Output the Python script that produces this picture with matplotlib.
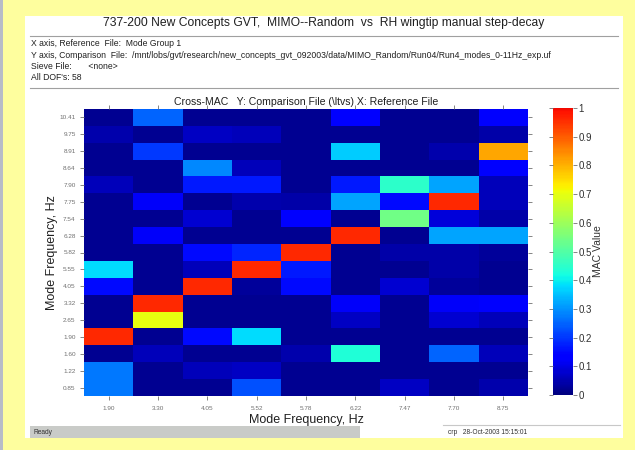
import numpy as np
import matplotlib

matplotlib.use("Agg")
import matplotlib.pyplot as plt
from matplotlib.colors import ListedColormap
from matplotlib.patches import Rectangle
from matplotlib.lines import Line2D

plt.rcParams["font.family"] = ["Liberation Sans", "DejaVu Sans"]

W, H = 635, 450
BG_YELLOW = "#fefe9e"
STATUS_GRAY = "#c9cbc8"
RULE_GRAY = "#a0a0a0"
TICK_GRAY = "#707070"

# x: reference file modes, y: comparison file modes (top -> bottom)
x_labels = ["1.90", "3.30", "4.05", "5.52", "5.78", "6.22", "7.47", "7.70", "8.75"]
y_labels = ["10.41", "9.75", "8.91", "8.64", "7.90", "7.75", "7.54", "6.28", "5.82",
            "5.55", "4.05", "3.32", "2.65", "1.90", "1.60", "1.22", "0.85"]

mac_values = [
    [0.02, 0.25, 0.02, 0.02, 0.02, 0.13, 0.02, 0.02, 0.13],
    [0.05, 0.02, 0.07, 0.06, 0.02, 0.02, 0.02, 0.02, 0.04],
    [0.02, 0.20, 0.02, 0.02, 0.02, 0.36, 0.02, 0.05, 0.81],
    [0.02, 0.02, 0.29, 0.06, 0.02, 0.02, 0.02, 0.02, 0.14],
    [0.06, 0.02, 0.17, 0.17, 0.02, 0.17, 0.45, 0.32, 0.06],
    [0.02, 0.12, 0.02, 0.05, 0.04, 0.32, 0.15, 0.96, 0.06],
    [0.02, 0.02, 0.08, 0.02, 0.13, 0.02, 0.54, 0.09, 0.04],
    [0.02, 0.12, 0.02, 0.02, 0.02, 0.96, 0.02, 0.32, 0.32],
    [0.02, 0.02, 0.15, 0.18, 0.96, 0.02, 0.04, 0.04, 0.03],
    [0.38, 0.02, 0.06, 0.96, 0.17, 0.02, 0.02, 0.04, 0.02],
    [0.15, 0.02, 0.96, 0.03, 0.15, 0.02, 0.08, 0.03, 0.02],
    [0.02, 0.96, 0.02, 0.02, 0.02, 0.12, 0.02, 0.12, 0.14],
    [0.02, 0.70, 0.02, 0.02, 0.02, 0.07, 0.02, 0.08, 0.06],
    [0.96, 0.02, 0.15, 0.38, 0.02, 0.02, 0.02, 0.02, 0.02],
    [0.02, 0.06, 0.02, 0.02, 0.05, 0.43, 0.02, 0.25, 0.06],
    [0.27, 0.02, 0.06, 0.07, 0.02, 0.02, 0.02, 0.02, 0.02],
    [0.27, 0.02, 0.02, 0.23, 0.02, 0.02, 0.07, 0.02, 0.05],
]

title_text = "737-200 New Concepts GVT,  MIMO--Random  vs  RH wingtip manual step-decay"
header_lines = [
    "X axis, Reference  File:  Mode Group 1",
    "Y axis, Comparison  File:  /mnt/lobs/gvt/research/new_concepts_gvt_092003/data/MIMO_Random/Run04/Run4_modes_0-11Hz_exp.uf",
    "Sieve File:       <none>",
    "All DOF's: 58",
]


def fx(px):
    return px / W


def fy(py):
    return 1 - py / H


# jet, cut before the dark-red end (top of the bar is plain red)
jet_cut = ListedColormap(plt.cm.jet(np.linspace(0.0, 0.9, 256)))

fig = plt.figure(figsize=(W / 100, H / 100), dpi=100, facecolor=BG_YELLOW)

# white panel + decoration (kept underneath the axes)
fig.patches.append(Rectangle((fx(25), fy(438)), fx(598), 422 / H, transform=fig.transFigure,
                             facecolor="white", edgecolor="none", zorder=-2))
fig.patches.append(Rectangle((0, 0), fx(3), 1, transform=fig.transFigure,
                             facecolor="#b8bcc8", edgecolor="none", zorder=-2))
fig.lines.append(Line2D([fx(30), fx(618)], [fy(36), fy(36)], transform=fig.transFigure,
                        color=RULE_GRAY, linewidth=0.8, zorder=-1))
fig.lines.append(Line2D([fx(30), fx(618)], [fy(88), fy(88)], transform=fig.transFigure,
                        color=RULE_GRAY, linewidth=0.8, zorder=-1))

fig.text(fx(324), fy(23), title_text, ha="center", va="center", fontsize=8.7, color="#202020")
for i, line in enumerate(header_lines):
    fig.text(fx(31), fy(44 + i * 11.3), line, ha="left", va="center", fontsize=6.2,
             color="#202020")

# status bar
fig.patches.append(Rectangle((fx(30), fy(438)), fx(330), 12 / H, transform=fig.transFigure,
                             facecolor=STATUS_GRAY, edgecolor="none", zorder=-1))
fig.text(fx(33), fy(432), "Ready", ha="left", va="center", fontsize=4.8, color="#303030")
fig.lines.append(Line2D([fx(443), fx(620)], [fy(425), fy(425)], transform=fig.transFigure,
                        color="#c8c8c8", linewidth=0.8, zorder=-1))
fig.text(fx(448), fy(432), "crp   28-Oct-2003 15:15:01", ha="left", va="center",
         fontsize=4.8, color="#303030")

# heatmap
ax = fig.add_axes([fx(84), fy(396), fx(444), 287 / H])
ax.set_zorder(2)
mac = np.array(mac_values)
im = ax.imshow(mac, cmap=jet_cut, vmin=0, vmax=1, aspect="auto", interpolation="nearest")
ax.set_xticks(np.arange(len(x_labels)))
ax.set_xticklabels(x_labels)
ax.set_yticks(np.arange(len(y_labels)))
ax.set_yticklabels(y_labels)
ax.tick_params(axis="both", direction="out", length=3, width=0.6, color=TICK_GRAY,
               labelsize=4.6, labelcolor=TICK_GRAY, top=True, right=True, pad=3)
ax.tick_params(axis="x", pad=4)
for spine in ax.spines.values():
    spine.set_visible(False)
ax.set_xlabel("Mode Frequency, Hz", fontsize=9, color="#202020", labelpad=2)
ax.set_ylabel("Mode Frequency, Hz", fontsize=9, color="#202020", labelpad=1)
ax.set_title("Cross-MAC   Y: Comparison File (\\ltvs) X: Reference File", fontsize=7.6,
             color="#202020", pad=3)

# colorbar
cax = fig.add_axes([fx(553), fy(395), fx(20), 287 / H])
cax.set_zorder(2)
cb = fig.colorbar(im, cax=cax)
cb.set_ticks(np.round(np.arange(0, 1.01, 0.1), 1))
cb.set_ticklabels(["0", "0.1", "0.2", "0.3", "0.4", "0.5", "0.6", "0.7", "0.8", "0.9", "1"])
cb.outline.set_visible(False)
cax.tick_params(direction="out", length=3, width=0.6, color=TICK_GRAY, left=True, right=True,
                labelsize=7, labelcolor="#303030", pad=1)
cb.set_label("MAC Value", fontsize=7.5, color="#303030", labelpad=1)

fig.savefig("out.png", dpi=100, facecolor=BG_YELLOW)
